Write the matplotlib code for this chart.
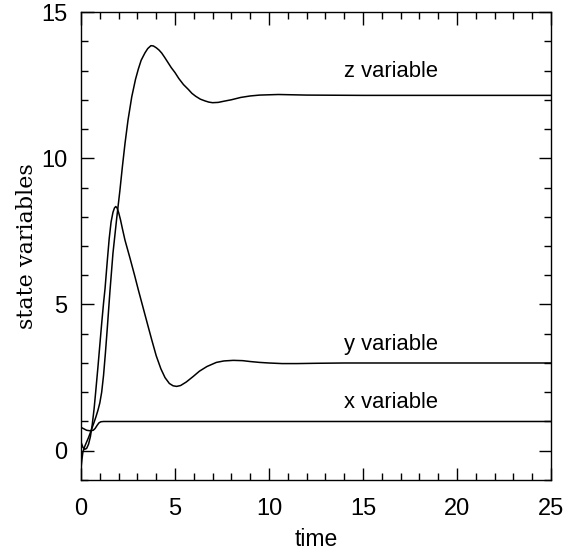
import numpy as np
import matplotlib
matplotlib.use("Agg")
import matplotlib.pyplot as plt
from matplotlib.ticker import MultipleLocator

# values
t_x = [0.0, 0.15, 0.3, 0.5, 0.65, 0.75, 0.85, 0.95, 1.05, 1.2, 25.0]
x_var = [0.8, 0.75, 0.7, 0.68, 0.7, 0.76, 0.86, 0.95, 0.99, 1.0, 1.0]

t_y = [0.0, 0.1, 0.2, 0.3, 0.4, 0.5, 0.6, 0.7, 0.78, 0.9, 1.0, 1.1, 1.2, 1.28,
       1.4, 1.5, 1.6, 1.7, 1.78, 1.85, 1.92, 2.0, 2.1, 2.2, 2.34, 2.6, 2.85,
       3.05, 3.3, 3.55, 3.76, 4.0, 4.25, 4.47, 4.7, 4.9, 5.09, 5.3, 5.6, 5.97,
       6.3, 6.7, 7.2, 7.6, 8.1, 8.6, 9.0, 9.5, 10.0, 10.7, 11.5, 12.5, 14.0, 25.0]
y_var = [0.3, 0.12, 0.05, 0.08, 0.22, 0.48, 0.9, 1.45, 2.0, 2.85, 3.6, 4.35, 5.05, 5.55,
         6.5, 7.25, 7.82, 8.15, 8.3, 8.35, 8.3, 8.15, 7.9, 7.6, 7.2, 6.6, 6.0,
         5.5, 4.9, 4.3, 3.8, 3.25, 2.8, 2.5, 2.3, 2.22, 2.2, 2.23, 2.35, 2.54,
         2.72, 2.88, 3.02, 3.07, 3.09, 3.08, 3.05, 3.02, 3.0, 2.98, 2.98, 2.99, 3.0, 3.0]

t_z = [0.0, 0.05, 0.1, 0.2, 0.3, 0.4, 0.5, 0.6, 0.7, 0.8, 0.9, 1.0, 1.1, 1.2,
       1.3, 1.4, 1.54, 1.7, 1.9, 2.07, 2.2, 2.34, 2.5, 2.7, 2.9, 3.05, 3.2,
       3.4, 3.55, 3.72, 3.85, 4.0, 4.15, 4.29, 4.45, 4.6, 4.8, 5.0, 5.2, 5.45,
       5.7, 5.9, 6.1, 6.35, 6.6, 6.8, 7.0, 7.3, 7.6, 8.0, 8.5, 9.0, 9.5, 10.5,
       12.0, 15.0, 25.0]
z_var = [-0.6, -0.3, -0.05, 0.15, 0.3, 0.45, 0.62, 0.8, 0.98, 1.17, 1.38, 1.63, 2.0, 2.58,
         3.35, 4.2, 5.45, 6.75, 7.95, 8.9, 9.7, 10.5, 11.3, 12.1, 12.7, 13.05, 13.35,
         13.6, 13.75, 13.85, 13.84, 13.78, 13.7, 13.6, 13.45, 13.3, 13.1, 12.93, 12.73, 12.52,
         12.36, 12.22, 12.12, 12.02, 11.96, 11.92, 11.9, 11.91, 11.95, 12.0, 12.08, 12.13, 12.16, 12.18,
         12.16, 12.15, 12.15]

labels = ["x variable", "y variable", "z variable"]
label_pos = [(16.5, 1.47), (16.5, 3.45), (16.5, 12.79)]

sans = "Liberation Sans"

fig = plt.figure(figsize=(5.74, 5.54), dpi=100)
ax = fig.add_axes([0.1411, 0.1336, 0.9599 - 0.1411, 0.9783 - 0.1336])

for t, v in [(t_x, x_var), (t_y, y_var), (t_z, z_var)]:
    ax.plot(t, v, color="black", linewidth=1.1)

for txt, (tx, ty) in zip(labels, label_pos):
    ax.text(tx, ty, txt, ha="center", va="baseline", fontsize=15.8, family=sans)

ax.set_xlim(0, 25)
ax.set_ylim(-1, 15)
ax.xaxis.set_major_locator(MultipleLocator(5))
ax.xaxis.set_minor_locator(MultipleLocator(1))
ax.yaxis.set_major_locator(MultipleLocator(5))
ax.yaxis.set_minor_locator(MultipleLocator(1))
ax.tick_params(which="both", direction="in", top=True, right=True, width=1.0)
ax.tick_params(which="major", length=9)
ax.tick_params(which="minor", length=5)
ax.tick_params(axis="x", which="major", pad=13)
ax.tick_params(axis="y", which="major", pad=10)
for lab in ax.get_xticklabels() + ax.get_yticklabels():
    lab.set_family(sans)
    lab.set_fontsize(17)
for sp in ax.spines.values():
    sp.set_linewidth(1.0)

ax.set_xlabel("time", fontsize=16.5, family=sans, va="top")
ax.xaxis.set_label_coords(0.5, -0.103)
ax.set_ylabel("state variables", fontsize=16, family="DejaVu Serif", va="bottom")
ax.yaxis.set_label_coords(-0.092, 0.5)

fig.savefig("out.png", dpi=100)
